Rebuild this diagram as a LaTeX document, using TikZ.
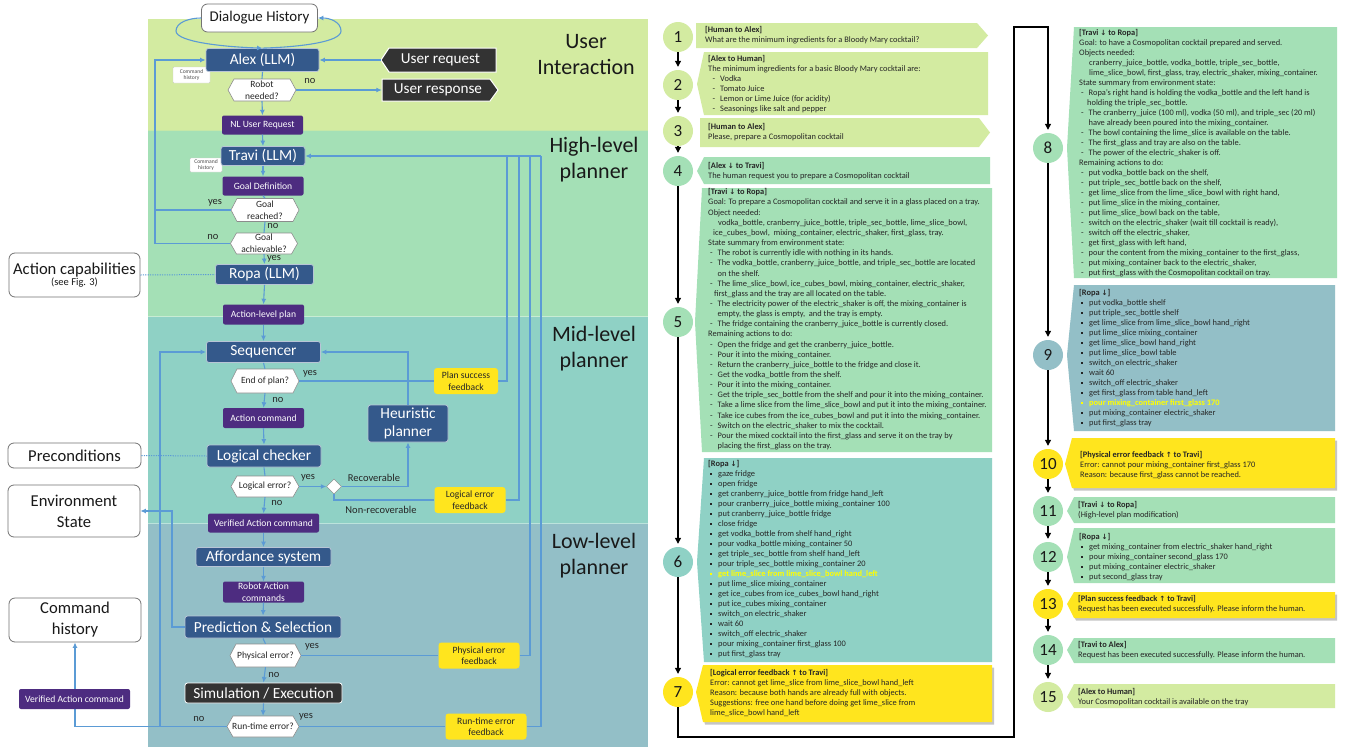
\documentclass[tikz,border=0pt]{standalone}
\usepackage{fontspec}
\setmainfont{Carlito}
\newfontfamily\symf{DejaVu Sans}
\usetikzlibrary{arrows.meta,calc,shapes.geometric}
\definecolor{bUI}{HTML}{D3EBA1}
\definecolor{bHL}{HTML}{A4E0B6}
\definecolor{bML}{HTML}{8FD1C5}
\definecolor{bLL}{HTML}{93BFC7}
\definecolor{nblue}{HTML}{34598B}
\definecolor{npurp}{HTML}{4D2C80}
\definecolor{ndark}{HTML}{333333}
\definecolor{nyel}{HTML}{FFE51E}
\definecolor{lnblue}{HTML}{5B9BD5}
\definecolor{hly}{HTML}{FFFF00}
\newcommand\dnar{{\symf\fontsize{7.2}{6}\selectfont ↓}}
\newcommand\upar{{\symf\fontsize{7.2}{6}\selectfont ↑}}
\newcommand\dd{\hspace*{2pt}\makebox[7.5pt][l]{-}}
\newcommand\cc{\hspace*{9.5pt}}
\newcommand\bl{\hspace*{2pt}\makebox[8pt][l]{\raisebox{1.8pt}{\rule{1.9pt}{1.9pt}}}}
\newcommand\hexat[6]{%
 \draw[fill=white,draw=black!45,line width=0.6pt] ({#2-#4/2},#3) -- ({#2-#4/2+6},{#3-#5/2}) -- ({#2+#4/2-6},{#3-#5/2}) -- ({#2+#4/2},#3) -- ({#2+#4/2-6},{#3+#5/2}) -- ({#2-#4/2+6},{#3+#5/2}) -- cycle;
 \node[hexn, minimum width=#4pt, minimum height=#5pt] (#1) at (#2,#3) {#6};}
\newcommand\lbox[6]{\fill[#6] ({#1+7},#2) -- (#3,#2) -- (#3,#4) -- ({#1+7},#4) -- (#1,#5) -- cycle;}
\newcommand\shbox[5]{\fill[black!45, opacity=.5, xshift=2pt, yshift=-2.5pt] ({#1+7},#2) -- (#3,#2) -- (#3,#4) -- ({#1+7},#4) -- (#1,#5) -- cycle;}
\newcommand\rbox[5]{\fill[#5] (#1,#2) -- ({#3-11},#2) -- (#3,{(#2+#4)/2}) -- ({#3-11},#4) -- (#1,#4) -- cycle;}
\begin{document}
\begin{tikzpicture}[x=1pt,y=-1pt,
 fl/.style={draw=lnblue, line width=1.1pt},
 ar/.style={fl, -{Latex[length=5.5pt,width=5pt]}},
 dotl/.style={draw=lnblue, line width=1pt, dash pattern=on 1.2pt off 1.2pt},
 bn/.style={fill=nblue, draw=nblue!35!white, line width=0.8pt, rounded corners=2.5pt, text=white, inner sep=0, font=\fontsize{15.4}{17}\selectfont},
 pn/.style={fill=npurp, rounded corners=2pt, text=white, inner sep=0, font=\fontsize{9.6}{12}\selectfont, align=center},
 yn/.style={fill=nyel, rounded corners=3pt, inner sep=0, font=\fontsize{9.6}{11.5}\selectfont, align=center, text=black!85},
 wn/.style={fill=white, draw=black!55, line width=0.8pt, rounded corners=6pt, inner sep=0, align=center, text=black!90},
 chs/.style={fill=white, draw=black!20, rounded corners=1pt, minimum width=37pt, minimum height=16pt, inner sep=0, align=center, font=\fontsize{5.6}{6.5}\selectfont, text=black!70},
 hexn/.style={inner sep=0, align=center, font=\fontsize{9.5}{12}\selectfont, text=black!85},
 lab/.style={inner sep=0, font=\fontsize{10.5}{11}\selectfont, text=black!85},
 band/.style={inner sep=0, align=center, font=\fontsize{22}{26}\selectfont, text=black!90},
 circ/.style={circle, minimum size=30pt, inner sep=0, font=\fontsize{17}{17}\selectfont, text=black!90},
 tl/.style={draw=black, line width=1.1pt, -{Triangle[length=6pt,width=6pt]}, shorten >=3pt},
 tx/.style={anchor=north west, inner sep=0, align=left, font=\fontsize{8.4}{10}\selectfont, text=black!85}
]
\useasboundingbox (0,0) rectangle (1347,747);
\fill[white] (0,0) rectangle (1347,747);
% bands
\fill[bUI] (148,19) rectangle (648,130);
\fill[bHL] (148,130) rectangle (648,316);
\fill[bML] (148,316) rectangle (648,523);
\fill[bLL] (148,523) rectangle (648,747);
\draw[bUI!70!bHL, line width=0.6pt] (148,130) -- (648,130);
\draw[bHL!60!white, line width=0.6pt] (148,316) -- (648,316);
\draw[bML!60!white, line width=0.6pt] (148,523) -- (648,523);
\node[band] (t1) at (586,55) {User\\Interaction};
\node[band] (t2) at (594,160) {High-level\\planner};
\node[band] (t3) at (594,349) {Mid-level\\planner};
\node[band] (t4) at (594,556) {Low-level\\planner};

% nodes
\node[wn, minimum width=116pt, minimum height=28pt, font=\fontsize{14.9}{16}\selectfont] (dh) at (259.5,18) {Dialogue History};
\node[chs] (ch1) at (191.5,75) {Command\\history};
\node[bn, minimum width=113pt, minimum height=23pt] (alex) at (262.5,60) {Alex (LLM)};
\fill[ndark, draw=white, line width=1pt] (381,60) -- (389,48) -- (496,48) -- (496,72) -- (389,72) -- cycle;
\node[inner sep=0, minimum width=115pt, minimum height=24pt, text=white, font=\fontsize{15.2}{16}\selectfont] (ureq) at (438.5,60) {\hspace*{4pt}User request};
\fill[ndark, draw=white, line width=1pt] (382,79) -- (490,79) -- (498,90) -- (490,101) -- (382,101) -- cycle;
\node[inner sep=0, minimum width=116pt, minimum height=22pt, text=white, font=\fontsize{15.2}{16}\selectfont] (uresp) at (440,90) {User response\hspace*{4pt}};
\hexat{rn}{262}{90}{68}{22}{Robot\\needed?}
\node[pn, minimum width=81pt, minimum height=19pt] (nl) at (262.5,125) {NL User Request};
\node[chs, minimum width=32pt, minimum height=14pt] (ch2) at (206,165) {Command\\history};
\node[bn, minimum width=84pt, minimum height=19pt] (travi) at (263,156) {Travi (LLM)};
\node[pn, minimum width=81pt, minimum height=19pt] (gd) at (263,186) {Goal Definition};
\hexat{gr}{265}{210}{68}{23}{Goal\\reached?}
\hexat{ga}{264}{243.5}{67}{21}{Goal\\achievable?}
\node[bn, minimum width=98pt, minimum height=20pt] (ropa) at (264.5,274.5) {Ropa (LLM)};
\node[wn, minimum width=131pt, minimum height=44pt] (ac) at (74.5,275) {{\fontsize{16.6}{18}\selectfont Action capabilities}\\[-1pt]{\fontsize{10.5}{12}\selectfont (see Fig. 3)}};
\node[pn, minimum width=81pt, minimum height=20pt] (alp) at (263.5,314.5) {Action-level plan};
\node[bn, minimum width=114pt, minimum height=21pt] (seq) at (263.5,352) {Sequencer};
\hexat{eop}{265}{381}{68}{24}{End of plan?}
\node[pn, minimum width=81pt, minimum height=20pt] (acmd) at (263.5,418) {Action command};
\node[bn, minimum width=80pt, minimum height=37pt, align=center, font=\fontsize{15.4}{18.5}\selectfont] (heur) at (408,423.5) {Heuristic\\planner};
\node[bn, minimum width=114pt, minimum height=22pt] (lc) at (264,456) {Logical checker};
\node[wn, minimum width=133pt, minimum height=25pt, font=\fontsize{16.6}{18}\selectfont] (pre) at (74.5,455.5) {Preconditions};
\hexat{le}{265}{486.5}{68}{21}{Logical error?}
\node[diamond, draw=black!50, fill=white, minimum width=15pt, minimum height=15pt, inner sep=0] (dia) at (334,486.5) {};
\node[pn, minimum width=111pt, minimum height=19pt] (vac) at (263.5,523) {Verified Action command};
\node[wn, minimum width=132pt, minimum height=52pt, font=\fontsize{16.6}{21}\selectfont] (es) at (74,511) {Environment\\State};
\node[bn, minimum width=135pt, minimum height=19pt] (aff) at (263.5,557) {Affordance system};
\node[pn, minimum width=81pt, minimum height=21pt] (rac) at (263.5,592) {Robot Action\\commands};
\node[bn, minimum width=156pt, minimum height=22pt] (ps) at (263,627) {Prediction \& Selection};
\node[wn, minimum width=132pt, minimum height=44pt, font=\fontsize{16.6}{21}\selectfont] (ch3) at (75,620) {Command\\history};
\hexat{pe}{265.5}{655.5}{71}{23}{Physical error?}
\node[bn, fill=ndark, draw=white, minimum width=157pt, minimum height=20pt] (se) at (263.5,693) {Simulation / Execution};
\hexat{re}{263}{726.5}{72}{21}{Run-time error?}
\node[yn, minimum width=64pt, minimum height=26pt] (psf) at (466,381) {Plan success\\feedback};
\node[yn, minimum width=71pt, minimum height=26pt] (lef) at (470,500) {Logical error\\feedback};
\node[yn, minimum width=81pt, minimum height=26pt] (pef) at (479,655.5) {Physical error\\feedback};
\node[yn, minimum width=81pt, minimum height=26pt] (ref) at (486,726.5) {Run-time error\\feedback};

% connectors
\draw[ar] (alex.north) .. controls (300,47) and (341,42) .. (341,31) .. controls (341,22) and (330,18) .. (dh.east);
\draw[ar] (dh.west) .. controls (190,18) and (176,22) .. (176,31) .. controls (176,42) and (225,47) .. (alex.north);
\draw[ar] (ureq.west) -- (alex.east);
\draw[fl] (alex.south) -- (rn.north);
\draw[ar] (rn.east) -- (uresp.west);
\draw[ar] (rn.south) -- (nl.north);
\draw[ar] (nl.south) -- (travi.north);
\draw[ar] (travi.south) -- (gd.north);
\draw[fl] (gd.south) -- (gr.north);
\draw[fl] (gr.south) -- (ga.north);
\draw[ar] (ga.south) -- (ropa.north);
\coordinate (lx) at (155,0);
\draw[fl] (gr.west) -- (gr.west -| lx);
\draw[ar] (ga.west) -- (ga.west -| lx) |- (alex.west);
\draw[dotl] (ac.east) -- (ropa.west);
\draw[ar] (ropa.south) -- (alp.north);
\draw[ar] (alp.south) -- (seq.north);
\draw[fl] (seq.south) -- (eop.north);
\draw[ar] (eop.south) -- (acmd.north);
\draw[ar] (acmd.south) -- (lc.north);
\draw[fl] (lc.south) -- (le.north);
\draw[ar] (le.south) -- (vac.north);
\draw[dotl] (pre.east) -- (lc.west);
\draw[ar] (le.east) -- (dia.west);
\draw[ar] (dia.east) -| (heur.south);
\draw[fl] (dia.south) |- (lef.west);
\draw[ar] (heur.north) |- (seq.east);
\draw[fl] (eop.east) -- (psf.west);
\draw[ar] (vac.south) -- (aff.north);
\draw[ar] (aff.south) -- (rac.north);
\draw[ar] (rac.south) -- (ps.north);
\draw[fl] (ps.south) -- (pe.north);
\draw[ar] (pe.south) -- (se.north);
\draw[ar] (se.south) -- (re.north);
\draw[fl] (pe.east) -- (pef.west);
\draw[fl] (re.east) -- (ref.west);
\coordinate (j1) at (507,156);
\coordinate (j2) at (519,156);
\coordinate (j3) at (530,156);
\coordinate (j4) at (541,156);
\draw[fl] (psf.east) -| (j1);
\draw[fl] (lef.east) -| (j2);
\draw[fl] (pef.east) -| (j3);
\draw[fl] (ref.east) -| (j4);
\draw[ar] (j4) -- (travi.east);
\coordinate (sx) at (160,0);
\draw[ar] (re.west) -- (re.west -| sx) |- (seq.west);
\draw[ar] (re.west) -| (ch3.south);
\coordinate (ex) at (172,0);
\draw[ar] (ps.west) -- (ps.west -| ex) |- (es.east);
\node[pn, minimum width=111pt, minimum height=20pt] (vac2) at (74.5,699) {Verified Action command};

% labels
\node[lab] (l1) at (310,81) {no};
\node[lab] (l2) at (215,203) {yes};
\node[lab] (l3) at (273,226) {no};
\node[lab] (l4) at (213,237) {no};
\node[lab] (l5) at (274,259) {yes};
\node[lab] (l6) at (310,374) {yes};
\node[lab] (l7) at (278,400) {no};
\node[lab] (l8) at (308,478) {yes};
\node[lab] (l9) at (277,503) {no};
\node[lab] (l10) at (374,478) {Recoverable};
\node[lab] (l11) at (381,510) {Non-recoverable};
\node[lab] (l12) at (312,647) {yes};
\node[lab] (l13) at (274,675) {no};
\node[lab] (l14) at (306,717) {yes};
\node[lab] (l15) at (199,719) {no};

% ================= timeline =================
\rbox{696}{23}{988}{48}{bUI}
\lbox{697}{52}{988}{115}{84}{bUI}
\rbox{700}{118}{990}{147}{bUI}
\lbox{697}{157}{990}{184}{171}{bHL}
\lbox{695}{188}{992}{452}{322}{bHL}
\lbox{697}{458}{992}{662}{562}{bML}
\shbox{696}{665}{992}{722}{692}
\lbox{696}{665}{992}{722}{692}{nyel}
\lbox{1067}{27}{1337}{278}{148}{bHL}
\lbox{1067}{285}{1335}{431}{355}{bLL}
\shbox{1065}{438}{1335}{488}{464}
\lbox{1065}{438}{1335}{488}{464}{nyel}
\lbox{1067}{497}{1335}{523}{511}{bHL}
\lbox{1067}{528}{1335}{583}{557}{bHL}
\shbox{1067}{592}{1335}{618}{604}
\lbox{1067}{592}{1335}{618}{604}{nyel}
\lbox{1067}{638}{1335}{663}{650}{bHL}
\lbox{1067}{684}{1335}{708}{697}{bUI}

\node[circ, fill=bUI] (c1) at (678,37) {1};
\node[circ, fill=bUI] (c2) at (678,85) {2};
\node[circ, fill=bUI] (c3) at (678,131) {3};
\node[circ, fill=bHL] (c4) at (678,171) {4};
\node[circ, fill=bHL] (c5) at (678,322) {5};
\node[circ, fill=bML] (c6) at (678,562) {6};
\node[circ, fill=nyel] (c7) at (678,692) {7};
\node[circ, fill=bHL] (c8) at (1048,148) {8};
\node[circ, fill=bLL] (c9) at (1048,355) {9};
\node[circ, fill=nyel] (c10) at (1048,464) {10};
\node[circ, fill=bHL] (c11) at (1048,511) {11};
\node[circ, fill=bHL] (c12) at (1048,557) {12};
\node[circ, fill=nyel] (c13) at (1048,604) {13};
\node[circ, fill=bHL] (c14) at (1048,650) {14};
\node[circ, fill=bUI] (c15) at (1048,697) {15};
\draw[tl] (c1) -- (c2);
\draw[tl] (c2) -- (c3);
\draw[tl] (c3) -- (c4);
\draw[tl] (c4) -- (c5);
\draw[tl] (c5) -- (c6);
\draw[tl] (c6) -- (c7);
\coordinate (k1) at (678,737);
\coordinate (k2) at (1014,737);
\coordinate (k3) at (1014,27);
\coordinate (k4) at (1048,27);
\draw[tl] (c7.south) -- (k1) -- (k2) -- (k3) -- (k4) -- (c8.north);
\draw[tl] (c8) -- (c9);
\draw[tl] (c9) -- (c10);
\draw[tl] (c10) -- (c11);
\draw[tl] (c11) -- (c12);
\draw[tl] (c12) -- (c13);
\draw[tl] (c13) -- (c14);
\draw[tl] (c14) -- (c15);

% texts
\node[tx] (x1) at (705,26) {\textbf{[Human to Alex]}\\What are the minimum ingredients for a Bloody Mary cocktail?};
\node[tx] (x2) at (708,55) {\textbf{[Alex to Human]}\\The minimum ingredients for a basic Bloody Mary cocktail are:\\
\hspace*{4.5pt}\makebox[7.5pt][l]{-}Vodka\\
\hspace*{4.5pt}\makebox[7.5pt][l]{-}Tomato Juice\\
\hspace*{4.5pt}\makebox[7.5pt][l]{-}Lemon or Lime Juice (for acidity)\\
\hspace*{4.5pt}\makebox[7.5pt][l]{-}Seasonings like salt and pepper};
\node[tx] (x3) at (708,123) {\textbf{[Human to Alex]}\\Please, prepare a Cosmopolitan cocktail};
\node[tx] (x4) at (708,162) {\textbf{[Alex \dnar{} to Travi]}\\The human request you to prepare a Cosmopolitan cocktail};
\node[tx, font=\fontsize{8.4}{10.15}\selectfont] (x5) at (708,188.5) {\textbf{[Travi \dnar{} to Ropa]}\\
Goal: To prepare a Cosmopolitan cocktail and serve it in a glass placed on a tray.\\
Object needed:\\
\hspace*{10pt}vodka\_bottle, cranberry\_juice\_bottle, triple\_sec\_bottle, lime\_slice\_bowl,\\
\hspace*{5pt}ice\_cubes\_bowl,\ \ mixing\_container, electric\_shaker, first\_glass, tray.\\
State summary from environment state:\\
\dd The robot is currently idle with nothing in its hands.\\
\dd The vodka\_bottle, cranberry\_juice\_bottle, and triple\_sec\_bottle are located\\
\cc on the shelf.\\
\dd The lime\_slice\_bowl, ice\_cubes\_bowl, mixing\_container, electric\_shaker,\\
\hspace*{6pt}first\_glass and the tray are all located on the table.\\
\dd The electricity power of the electric\_shaker is off, the mixing\_container is\\
\cc empty, the glass is empty,\ \ and the tray is empty.\\
\dd The fridge containing the cranberry\_juice\_bottle is currently closed.\\
Remaining actions to do:\\
\dd Open the fridge and get the cranberry\_juice\_bottle.\\
\dd Pour it into the mixing\_container.\\
\dd Return the cranberry\_juice\_bottle to the fridge and close it.\\
\dd Get the vodka\_bottle from the shelf.\\
\dd Pour it into the mixing\_container.\\
\dd Get the triple\_sec\_bottle from the shelf and pour it into the mixing\_container.\\
\dd Take a lime slice from the lime\_slice\_bowl and put it into the mixing\_container.\\
\dd Take ice cubes from the ice\_cubes\_bowl and put it into the mixing\_container.\\
\dd Switch on the electric\_shaker to mix the cocktail.\\
\dd Pour the mixed cocktail into the first\_glass and serve it on the tray by\\
\cc placing the first\_glass on the tray.};
\node[tx] (x6) at (708,460) {\textbf{[Ropa \dnar]}\\
\bl gaze fridge\\
\bl open fridge\\
\bl get cranberry\_juice\_bottle from fridge hand\_left\\
\bl pour cranberry\_juice\_bottle mixing\_container 100\\
\bl put cranberry\_juice\_bottle fridge\\
\bl close fridge\\
\bl get vodka\_bottle from shelf hand\_right\\
\bl pour vodka\_bottle mixing\_container 50\\
\bl get triple\_sec\_bottle from shelf hand\_left\\
\bl pour triple\_sec\_bottle mixing\_container 20\\
{\color{hly}\bfseries\bl get lime\_slice from lime\_slice\_bowl hand\_left}\\
\bl put lime\_slice mixing\_container\\
\bl get ice\_cubes from ice\_cubes\_bowl hand\_right\\
\bl put ice\_cubes mixing\_container\\
\bl switch\_on electric\_shaker\\
\bl wait 60\\
\bl switch\_off electric\_shaker\\
\bl pour mixing\_container first\_glass 100\\
\bl put first\_glass tray};
\node[tx] (x7) at (710,669) {\textbf{[Logical error feedback \upar{} to Travi]}\\
Error: cannot get lime\_slice from lime\_slice\_bowl hand\_left\\
Reason: because both hands are already full with objects.\\
Suggestions: free one hand before doing get lime\_slice from\\
lime\_slice\_bowl hand\_left};
\node[tx] (x8) at (1079,29) {\textbf{[Travi \dnar{} to Ropa]}\\
Goal: to have a Cosmopolitan cocktail prepared and served.\\
Objects needed:\\
\hspace*{10pt}cranberry\_juice\_bottle, vodka\_bottle, triple\_sec\_bottle,\\
\hspace*{10pt}lime\_slice\_bowl, first\_glass, tray, electric\_shaker, mixing\_container.\\
State summary from environment state:\\
\dd Ropa's right hand is holding the vodka\_bottle and the left hand is\\
\hspace*{8pt}holding the triple\_sec\_bottle.\\
\dd The cranberry\_juice (100 ml), vodka (50 ml), and triple\_sec (20 ml)\\
\cc have already been poured into the mixing\_container.\\
\dd The bowl containing the lime\_slice is available on the table.\\
\dd The first\_glass and tray are also on the table.\\
\dd The power of the electric\_shaker is off.\\
Remaining actions to do:\\
\dd put vodka\_bottle back on the shelf,\\
\dd put triple\_sec\_bottle back on the shelf,\\
\dd get lime\_slice from the lime\_slice\_bowl with right hand,\\
\dd put lime\_slice in the mixing\_container,\\
\dd put lime\_slice\_bowl back on the table,\\
\dd switch on the electric\_shaker (wait till cocktail is ready),\\
\dd switch off the electric\_shaker,\\
\dd get first\_glass with left hand,\\
\dd pour the content from the mixing\_container to the first\_glass,\\
\dd put mixing\_container back to the electric\_shaker,\\
\dd put first\_glass with the Cosmopolitan cocktail on tray.};
\node[tx] (x9) at (1079,289) {\textbf{[Ropa \dnar]}\\
\bl put vodka\_bottle shelf\\
\bl put triple\_sec\_bottle shelf\\
\bl get lime\_slice from lime\_slice\_bowl hand\_right\\
\bl put lime\_slice mixing\_container\\
\bl get lime\_slice\_bowl hand\_right\\
\bl put lime\_slice\_bowl table\\
\bl switch\_on electric\_shaker\\
\bl wait 60\\
\bl switch\_off electric\_shaker\\
\bl get first\_glass from table hand\_left\\
{\color{hly}\bfseries\bl pour mixing\_container first\_glass 170}\\
\bl put mixing\_container electric\_shaker\\
\bl put first\_glass tray};
\node[tx] (x10) at (1080,451) {\textbf{[Physical error feedback \upar{} to Travi]}\\
Error: cannot pour mixing\_container first\_glass 170\\
Reason: because first\_glass cannot be reached.};
\node[tx] (x11) at (1078,501) {\textbf{[Travi \dnar{} to Ropa]}\\(High-level plan modification)};
\node[tx] (x12) at (1079,533) {\textbf{[Ropa \dnar]}\\
\bl get mixing\_container from electric\_shaker hand\_right\\
\bl pour mixing\_container second\_glass 170\\
\bl put mixing\_container electric\_shaker\\
\bl put second\_glass tray};
\node[tx] (x13) at (1078,595) {\textbf{[Plan success feedback \upar{} to Travi]}\\Request has been executed successfully. Please inform the human.};
\node[tx] (x14) at (1078,641) {\textbf{[Travi to Alex]}\\Request has been executed successfully. Please inform the human.};
\node[tx] (x15) at (1078,688) {\textbf{[Alex to Human]}\\Your Cosmopolitan cocktail is available on the tray};
\end{tikzpicture}
\end{document}
